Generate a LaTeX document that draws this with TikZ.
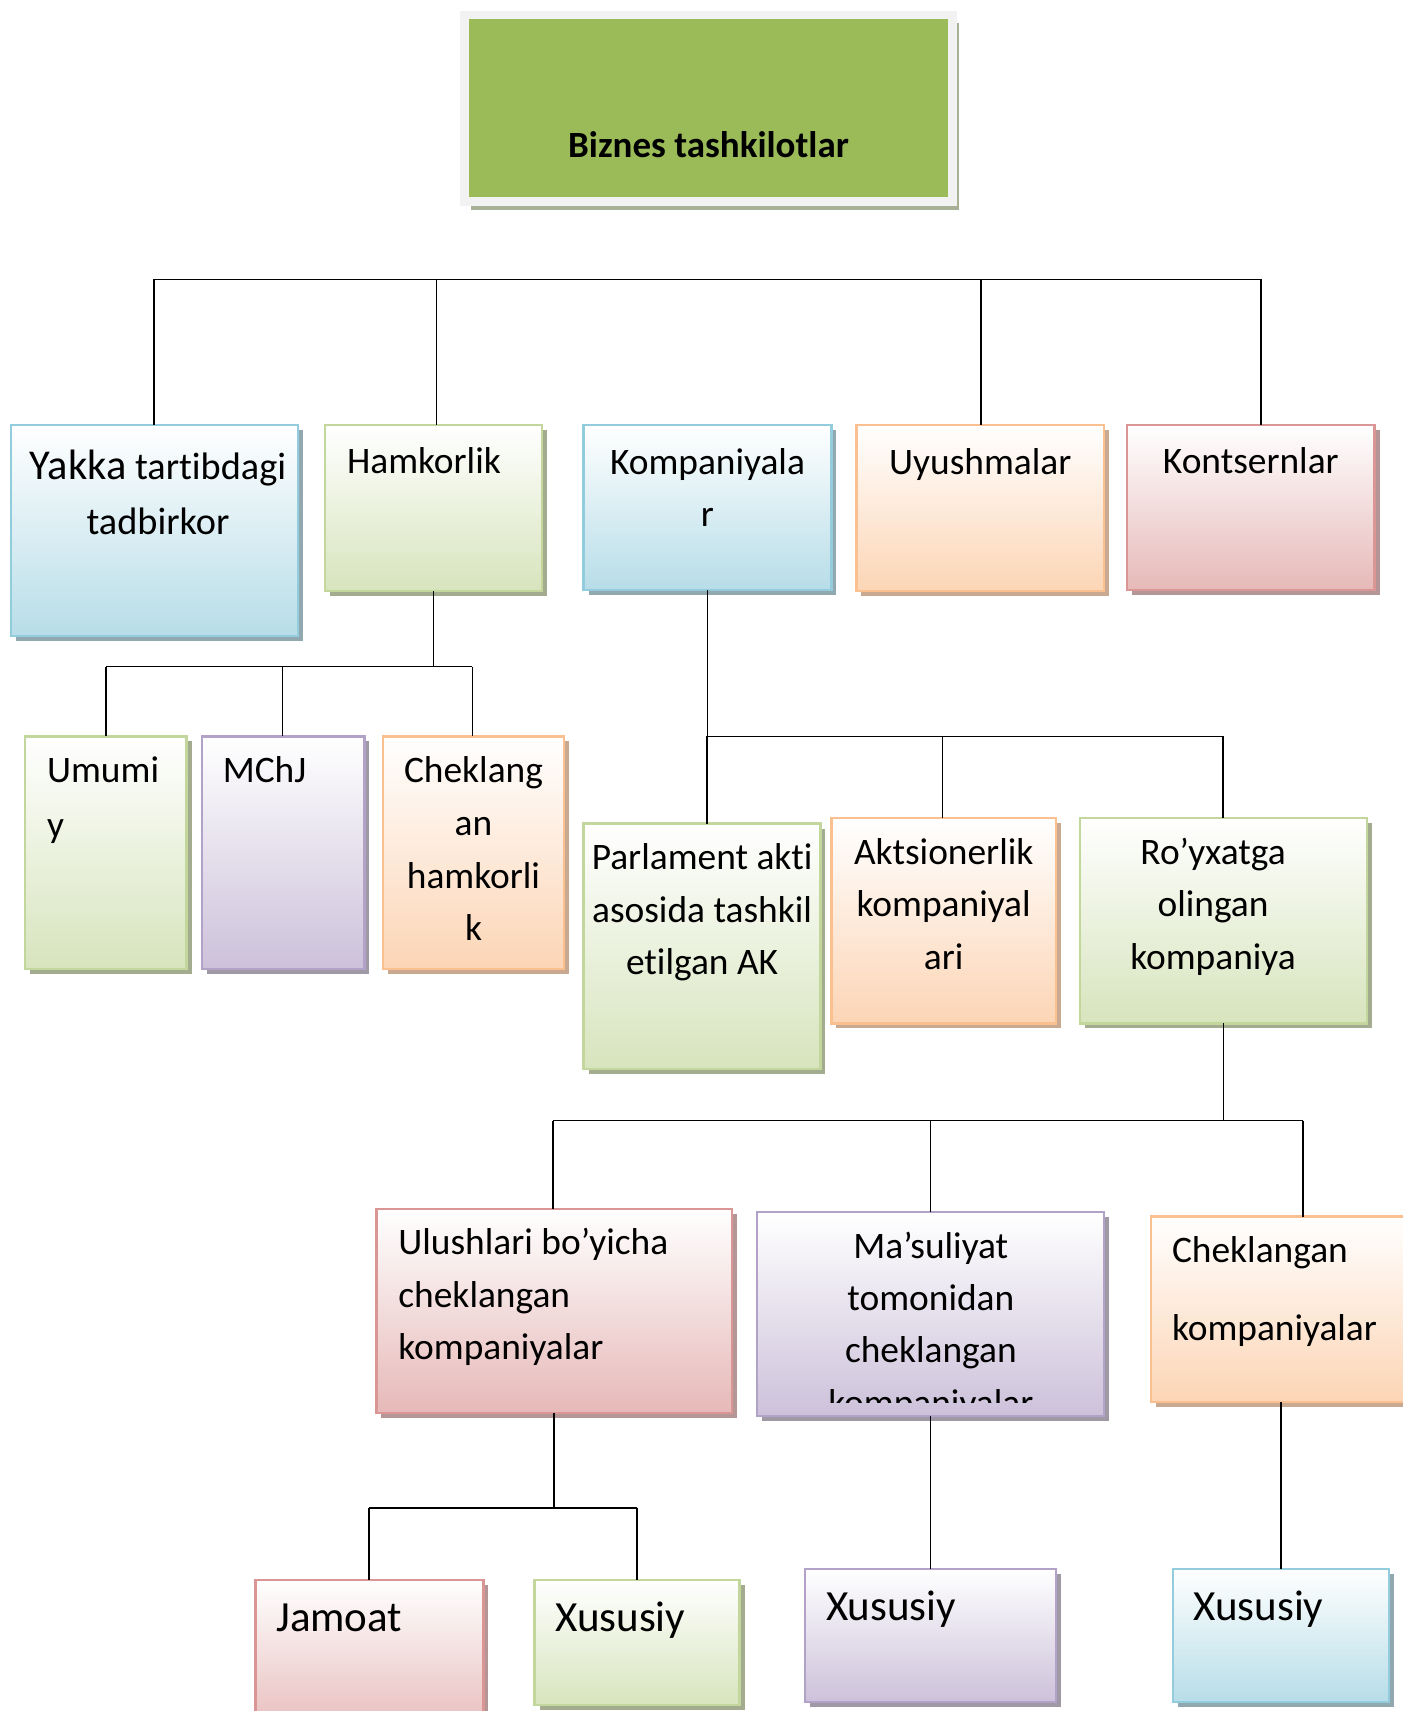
\documentclass[tikz,border=0pt]{standalone}
\usepackage{fontspec}
\setmainfont{Carlito}[Ligatures=NoCommon]
\usetikzlibrary{shadows}

\definecolor{titlegreen}{HTML}{9BBB59}
\definecolor{framegray}{HTML}{F2F2F2}
\definecolor{titleshadow}{HTML}{A8B196}
\definecolor{blueline}{HTML}{93CDDD}
\definecolor{bluefill}{HTML}{B7DDE8}
\definecolor{blueshadow}{HTML}{91A8B0}
\definecolor{greenline}{HTML}{C3D69B}
\definecolor{greenfill}{HTML}{D7E4BD}
\definecolor{greenshadow}{HTML}{A3AC8E}
\definecolor{purpleline}{HTML}{B3A2C7}
\definecolor{purplefill}{HTML}{CCC1DA}
\definecolor{purpleshadow}{HTML}{9E99A5}
\definecolor{orangeline}{HTML}{FAC090}
\definecolor{orangefill}{HTML}{FCD5B5}
\definecolor{orangeshadow}{HTML}{C9A98F}
\definecolor{redline}{HTML}{D99694}
\definecolor{redfill}{HTML}{E6B9B8}
\definecolor{redshadow}{HTML}{B39695}

% fixed-size text area: width, height, top skip, paragraph setup, text
\newcommand\boxtext[5]{\parbox[c][#2pt][t]{#1pt}{\vspace*{#3pt}#4\strut#5\par}}
% body text sizes
\newcommand\bodyfont[1]{\fontsize{37.4}{#1}\selectfont}
\newcommand\bigfont{\fontsize{43}{52}\selectfont}

\tikzset{
  box/.style={draw=#1line, line width=2.5pt, inner sep=0pt, outer sep=0pt,
    anchor=north west, top color=white, bottom color=#1fill,
    drop shadow={shadow xshift=5pt, shadow yshift=-5pt, fill=#1shadow, opacity=1}},
  titlebox/.style={draw=framegray, line width=8.5pt, fill=titlegreen,
    inner sep=0pt, outer sep=0pt, anchor=north west,
    drop shadow={shadow xshift=6pt, shadow yshift=-8pt, fill=titleshadow, opacity=1}},
  wire/.style={line width=1.6pt, black},
}

\begin{document}
\begin{tikzpicture}[x=1pt, y=-1pt]
\useasboundingbox (0,0) rectangle (1403,1711);
\fill[white] (0,0) rectangle (1403,1711);

% root
\node[titlebox] (title) at (464.5,15)
  {\boxtext{488}{186.5}{112}{\centering\bfseries\fontsize{37}{44}\selectfont}{Biznes tashkilotlar}};

% first level
\node[box=blue] (yakka) at (11,425)
  {\boxtext{287}{211}{15.5}{\centering\leftskip=7pt plus 1fil\fontsize{38.3}{55}\selectfont}{{\fontsize{42.5}{55}\selectfont Yakka} tartibdagi\\tadbirkor}};
\node[box=green] (hamkor) at (325.1,425)
  {\boxtext{217}{166}{12.4}{\raggedright\leftskip=22pt\bodyfont{52}}{Hamkorlik}};
\node[box=blue] (kompan) at (583.7,425)
  {\boxtext{247.6}{165}{12.4}{\centering\bodyfont{52.4}}{Kompaniyala\\r}};
\node[box=orange] (uyush) at (856.4,425)
  {\boxtext{247.7}{166}{13.2}{\centering\bodyfont{52}}{Uyushmalar}};
\node[box=red] (konts) at (1127,425)
  {\boxtext{247.7}{165}{12.4}{\centering\bodyfont{52}}{Kontsernlar}};

% partnerships
\node[box=green] (umumiy) at (25.1,736.4)
  {\boxtext{161.5}{232.4}{8}{\raggedright\leftskip=22pt\bodyfont{54.6}}{Umumi\\y}};
\node[box=purple] (mchj) at (201.8,736.4)
  {\boxtext{162.6}{232.4}{8}{\raggedright\leftskip=21pt\bodyfont{54.6}}{MChJ}};
\node[box=orange] (chekh) at (383,736.4)
  {\boxtext{181}{232.4}{9.3}{\centering\bodyfont{52.7}}{Cheklang\\an\\hamkorli\\k}};

% companies
\node[box=green] (parlam) at (583.7,823.7)
  {\boxtext{236.7}{245.5}{9}{\centering\bodyfont{52.6}}{Parlament akti\\asosida tashkil\\etilgan AK}};
\node[box=orange] (aktsi) at (831.3,818.2)
  {\boxtext{224.8}{205.2}{9.2}{\centering\bodyfont{52.6}}{Aktsionerlik\\kompaniyal\\ari}};
\node[box=green] (royx) at (1080.1,818.2)
  {\boxtext{286.9}{205.2}{9.2}{\centering\rightskip=21pt plus 1fil\bodyfont{52.6}}{Ro’yxatga\\olingan\\kompaniya}};

% registered companies
\node[box=red] (ulush) at (376.4,1208.8)
  {\boxtext{355.7}{204}{9.2}{\raggedright\leftskip=22pt\bodyfont{52.4}}{Ulushlari bo’yicha\\cheklangan\\kompaniyalar}};
\node[box=purple, minimum width=346.9pt, minimum height=204pt] (masul) at (757.2,1212.1) {};
\begin{scope}
  \clip (masul.north west) rectangle ([yshift=14pt]masul.south east);
  \node[anchor=north west, inner sep=0pt] (masultext) at (masul.north west)
    {\boxtext{346.9}{204}{9.2}{\centering\bodyfont{52.4}}{Ma’suliyat\\tomonidan\\cheklangan\\kompaniyalar}};
\end{scope}
\node[box=orange] (chekk) at (1151,1216.5)
  {\boxtext{269}{185.5}{9.4}{\raggedright\leftskip=21pt\bodyfont{52}}{Cheklangan\\[26.6pt]kompaniyalar}};

% bottom level
\node[box=red] (jamoat) at (255.3,1579.8)
  {\boxtext{228}{160}{15.5}{\raggedright\leftskip=21pt\bigfont}{Jamoat}};
\node[box=green] (xus1) at (534.6,1579.8)
  {\boxtext{205.1}{125.4}{15.5}{\raggedright\leftskip=21pt\bigfont}{Xususiy}};
\node[box=purple] (xus2) at (805.2,1568.9)
  {\boxtext{250.9}{133.1}{15.5}{\raggedright\leftskip=21pt\bigfont}{Xususiy}};
\node[box=blue] (xus3) at (1172.8,1568.9)
  {\boxtext{216}{133.1}{15.5}{\raggedright\leftskip=21pt\bigfont}{Xususiy}};

% connectors: root bus
\coordinate (ta) at (153.8,279.3);
\coordinate (tb) at (436.4,279.3);
\coordinate (tc) at (980.8,279.3);
\coordinate (td) at (1261.2,279.3);
\draw[wire] (ta) -- (td);
\draw[wire] (ta) -- (ta |- yakka.north);
\draw[wire] (tb) -- (tb |- hamkor.north);
\draw[wire] (tc) -- (tc |- uyush.north);
\draw[wire] (td) -- (td |- konts.north);

% partnerships bus
\coordinate (ha) at (105.8,666.6);
\coordinate (hb) at (282.6,666.6);
\coordinate (hc) at (472.4,666.6);
\draw[wire] (hamkor.south) -- (hamkor.south |- hc);
\draw[wire] (ha) -- (hc);
\draw[wire] (ha) -- (ha |- umumiy.north);
\draw[wire] (hb) -- (hb |- mchj.north);
\draw[wire] (hc) -- (hc |- chekh.north);

% companies bus
\coordinate (ka) at (707,736.4);
\coordinate (kb) at (942.6,736.4);
\coordinate (kc) at (1223,736.4);
\draw[wire] (kompan.south) -- (kompan.south |- ka);
\draw[wire] (ka) -- (kc);
\draw[wire] (ka) -- (ka |- parlam.north);
\draw[wire] (kb) -- (kb |- aktsi.north);
\draw[wire] (kc) -- (kc |- royx.north);

% registered companies bus
\coordinate (ra) at (553.1,1120.5);
\coordinate (rb) at (930.6,1120.5);
\coordinate (rc) at (1302.7,1120.5);
\draw[wire] (royx.south) -- (royx.south |- rc);
\draw[wire] (ra) -- (rc);
\draw[wire] (ra) -- (ra |- ulush.north);
\draw[wire] (rb) -- (rb |- masul.north);
\draw[wire] (rc) -- (rc |- chekk.north);

% bottom links
\coordinate (ua) at (368.8,1507.8);
\coordinate (ub) at (637.1,1507.8);
\draw[wire] (ulush.south) -- (ulush.south |- ua);
\draw[wire] (ua) -- (ub);
\draw[wire] (ua) -- (ua |- jamoat.north);
\draw[wire] (ub) -- (ub |- xus1.north);
\draw[wire] (masul.south) -- (masul.south |- xus2.north);
\draw[wire] (xus3.north) -- (xus3.north |- chekk.south);
\end{tikzpicture}
\end{document}
